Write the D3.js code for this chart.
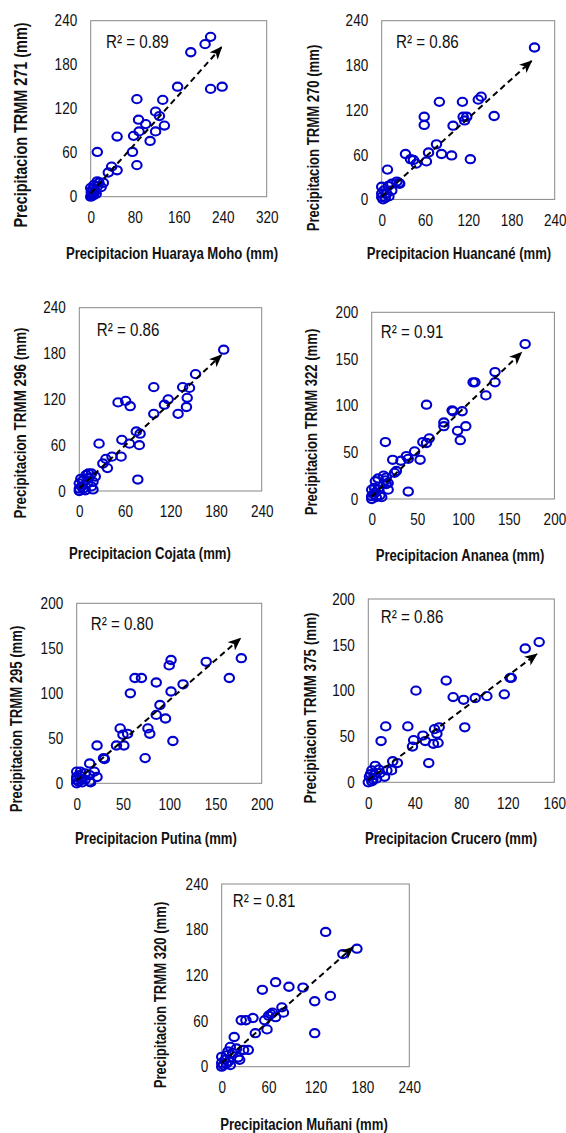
<!DOCTYPE html>
<html>
<head>
<meta charset="utf-8">
<script src="https://d3js.org/d3.v7.min.js"></script>
<style>
  body { margin: 0; background: #fff; }
  svg { display: block; }
  text { font-family: "Liberation Sans", Arial, sans-serif; fill: #111; }
</style>
</head>
<body>
<svg id="chart" width="566" height="1133"></svg>
<script>
// station (x) vs TRMM (y) monthly precipitation, mm
var huarayaPts = [[218,218],[208,208],[182,197],[239,150],[218,147],[158,150],[84,133],[131,132],[118,116],[125,110],
  [87,105],[100,99],[134,97],[88,89],[118,89],[78,83],[48,82],[108,76],[76,61],[12,61],[84,43],[38,41],[48,36],[32,33],
  [23,19],[12,21],[15,19],[19,13],[6,16],[0,12],[12,14],[8,8],[3,10],[1,6],[6,5],[10,4],[4,3],[2,1],[0,0],[5,2]];
var huancanePts = [[212,204],[138,138],[134,134],[80,131],[112,131],[59,111],[59,100],[113,111],[118,111],[115,106],
  [156,112],[99,99],[76,74],[65,63],[83,61],[97,59],[33,61],[40,54],[44,53],[48,48],[62,51],[123,54],[8,40],[24,22],
  [0,17],[0,8],[0,3],[7,8],[14,12],[14,21],[21,24],[25,21],[9,18],[3,12],[5,2],[2,0],[10,4]];
var cojataPts = [[190,185],[153,153],[136,136],[145,135],[98,136],[142,122],[141,110],[117,120],[112,113],[130,101],
  [98,101],[51,116],[61,118],[67,111],[75,78],[80,75],[56,67],[66,62],[79,60],[26,62],[55,45],[43,45],[35,42],[31,36],
  [37,30],[77,15],[21,19],[12,23],[18,2],[0,0],[0,3],[0,10],[5,14],[9,21],[16,23],[11,10],[18,12],[16,6],[8,1],[3,6],
  [5,3],[2,16],[12,17]];
var ananeaPts = [[168,166],[135,136],[135,125],[113,125],[111,125],[125,111],[60,101],[88,95],[99,94],[89,94],[79,82],
  [79,78],[103,78],[94,73],[97,63],[63,65],[60,60],[56,61],[15,61],[47,51],[38,46],[40,43],[53,42],[32,41],[23,42],
  [25,28],[27,30],[16,23],[16,16],[18,10],[40,8],[3,12],[0,0],[0,3],[0,10],[4,7],[7,10],[4,19],[7,22],[13,25],[15,20],
  [18,17],[2,5],[5,2],[9,4],[11,2]];
var putinaPts = [[178,139],[140,135],[102,137],[100,131],[165,117],[63,117],[70,117],[86,112],[115,110],[102,102],
  [58,100],[90,87],[86,76],[96,72],[47,61],[77,61],[79,55],[50,54],[55,55],[104,47],[43,42],[51,42],[22,42],[29,28],
  [30,27],[74,28],[14,22],[0,13],[19,13],[22,7],[15,1],[0,0],[0,4],[0,7],[4,13],[9,11],[14,9],[5,5],[9,4],[14,2],
  [2,2],[6,1],[3,9]];
var cruceroPts = [[147,153],[135,146],[123,114],[122,114],[117,96],[102,94],[92,92],[82,90],[73,93],[67,111],[41,100],
  [83,60],[61,60],[57,58],[59,53],[47,51],[49,45],[39,46],[38,39],[56,42],[60,43],[34,61],[15,61],[11,45],[52,21],
  [25,21],[21,23],[20,13],[14,6],[16,13],[6,18],[9,14],[3,13],[1,6],[4,3],[0,0],[3,1],[7,4],[10,10],[2,9],[5,8]];
var munaniPts = [[173,155],[155,148],[133,177],[139,93],[119,86],[119,44],[104,104],[86,105],[69,111],[52,101],[77,78],
  [79,71],[65,71],[63,69],[69,65],[60,67],[55,61],[58,49],[43,44],[40,64],[31,61],[25,61],[16,39],[34,22],[28,22],
  [19,24],[11,26],[23,9],[21,12],[11,2],[0,13],[6,15],[0,0],[2,2],[6,4],[0,5],[9,7],[4,9],[14,18],[8,20]];

var allPts = [huarayaPts, huancanePts, cojataPts, ananeaPts, putinaPts, cruceroPts, munaniPts];

var ticks60 = [0, 60, 120, 180, 240];
var ticks80 = [0, 80, 160, 240, 320];
var ticks50 = [0, 50, 100, 150, 200];
var ticks40 = [0, 40, 80, 120, 160];
var xTicks = [ticks80, ticks60, ticks60, ticks50, ticks50, ticks40, ticks60];
var yTicks = [ticks60, ticks60, ticks60, ticks50, ticks50, ticks50, ticks60];

var xLabels = ["Precipitacion Huaraya Moho (mm)", "Precipitacion Huancané (mm)", "Precipitacion Cojata (mm)",
  "Precipitacion Ananea (mm)", "Precipitacion Putina (mm)", "Precipitacion Crucero (mm)", "Precipitacion Muñani (mm)"];
var yLabels = ["Precipitacion TRMM 271 (mm)", "Precipitacion TRMM 270 (mm)", "Precipitacion TRMM 296 (mm)",
  "Precipitacion TRMM 322 (mm)", "Precipitacion TRMM 295 (mm)", "Precipitacion TRMM 375 (mm)", "Precipitacion TRMM 320 (mm)"];
var r2Values = ["0.89", "0.86", "0.86", "0.91", "0.80", "0.86", "0.81"];

// trend arrows, data coords [start, end]
var arrowLines = [[[0,4.6],[238,204]], [[0,4],[208,186]], [[0,3.5],[187,178]], [[0,2.5],[164,157]],
  [[0,3],[177,161]], [[0,2.5],[145,140]], [[0,5],[168,157]]];

// panel boxes and label placement (px)
var layout = [
  {left: 90.7,  top: 20.7,  w: 176,   h: 176,   r2: [15.3, 27.6], xt: [172, 253],   yt: [21, 125],    ys: 17.6},
  {left: 381.7, top: 20.7,  w: 173,   h: 178.7, r2: [14.3, 27],   xt: [459, 253],   yt: [313, 138],   ys: 16},
  {left: 79.3,  top: 307.7, w: 182.4, h: 183.3, r2: [17.4, 28.3], xt: [150, 552.7], yt: [20, 423],    ys: 16.4},
  {left: 371.7, top: 312.3, w: 182.7, h: 186.7, r2: [9, 26],      xt: [460, 555],   yt: [311.7, 422], ys: 16},
  {left: 76.7,  top: 603.3, w: 185,   h: 180,   r2: [14, 26.7],   xt: [156, 838],   yt: [16.7, 719],  ys: 16},
  {left: 368.3, top: 599,   w: 186,   h: 183.3, r2: [12.4, 23.7], xt: [451, 838],   yt: [310, 708],   ys: 16.4},
  {left: 221.7, top: 884,   w: 187.6, h: 182.7, r2: [11, 23.3],   xt: [304, 1124],  yt: [160.7, 995], ys: 16}
];

var narrow = 0.82; // Arial Narrow look

var svg = d3.select("#chart");

svg.append("defs").append("marker")
    .attr("id", "arrow")
    .attr("markerUnits", "userSpaceOnUse")
    .attr("markerWidth", 14)
    .attr("markerHeight", 12)
    .attr("viewBox", "0 0 14 12")
    .attr("refX", 12)
    .attr("refY", 6)
    .attr("orient", "auto")
  .append("path")
    .attr("d", "M0,0.5 L13,6 L0,11.5 L3.5,6 Z")
    .attr("fill", "#000");

layout.forEach(function(L, i) {
  var g = svg.append("g").attr("transform", "translate(" + L.left + "," + L.top + ")");

  var x = d3.scaleLinear().domain([0, d3.max(xTicks[i])]).range([0, L.w]);
  var y = d3.scaleLinear().domain([0, d3.max(yTicks[i])]).range([L.h, 0]);

  g.append("rect")
      .attr("width", L.w)
      .attr("height", L.h)
      .attr("fill", "none")
      .attr("stroke", "#878787")
      .attr("stroke-width", 1);

  var xa = g.append("g")
      .attr("transform", "translate(0," + L.h + ")")
      .call(d3.axisBottom(x).tickValues(xTicks[i]).tickSize(0).tickPadding(14.5));
  var ya = g.append("g")
      .call(d3.axisLeft(y).tickValues(yTicks[i]).tickSize(0).tickPadding(16.5));

  [xa, ya].forEach(function(a) {
    a.select(".domain").remove();
    a.selectAll("text")
        .attr("font-size", 16.5)
        .attr("font-family", "Liberation Sans, Arial, sans-serif")
        .attr("fill", "#111")
        .attr("transform", "scale(" + narrow + ",1)");
  });

  g.selectAll("ellipse.pt")
      .data(allPts[i])
    .enter().append("ellipse")
      .attr("class", "pt")
      .attr("cx", function(d) { return x(d[0]); })
      .attr("cy", function(d) { return y(d[1]); })
      .attr("rx", 4.7)
      .attr("ry", 4.1)
      .attr("fill", "none")
      .attr("stroke", "#0000cc")
      .attr("stroke-width", 2.1);

  var a = arrowLines[i];
  g.append("line")
      .attr("x1", x(a[0][0])).attr("y1", y(a[0][1]))
      .attr("x2", x(a[1][0])).attr("y2", y(a[1][1]))
      .attr("stroke", "#000")
      .attr("stroke-width", 2)
      .attr("stroke-dasharray", "6,4")
      .attr("marker-end", "url(#arrow)");

  g.append("text")
      .attr("transform", "translate(" + L.r2[0] + "," + L.r2[1] + ") scale(" + narrow + ",1)")
      .attr("font-size", 18.5)
      .text("R² = " + r2Values[i]);

  svg.append("text")
      .attr("transform", "translate(" + L.xt[0] + "," + (L.xt[1] + 5.8) + ") scale(" + narrow + ",1)")
      .attr("text-anchor", "middle")
      .attr("font-size", 16)
      .attr("font-weight", "bold")
      .text(xLabels[i]);

  svg.append("text")
      .attr("transform", "translate(" + (L.yt[0] + L.ys * 0.36) + "," + L.yt[1] + ") rotate(-90) scale(" + narrow + ",1)")
      .attr("text-anchor", "middle")
      .attr("font-size", L.ys)
      .attr("font-weight", "bold")
      .text(yLabels[i]);
});
</script>
</body>
</html>
